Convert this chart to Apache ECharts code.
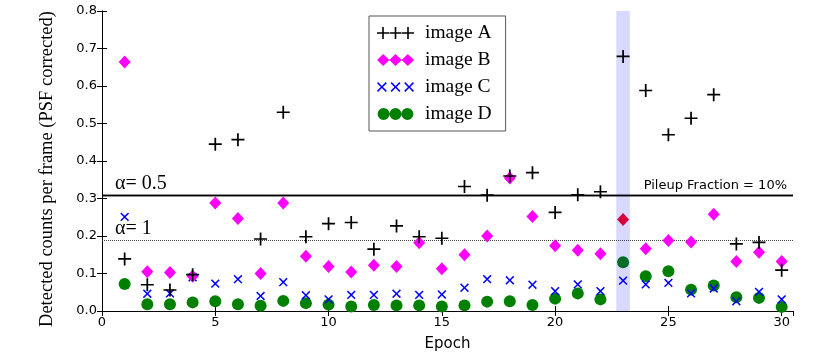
<!DOCTYPE html>
<html>
<head>
<meta charset="utf-8">
<title>Detected counts per frame</title>
<script src="https://cdn.jsdelivr.net/npm/echarts@6/dist/echarts.min.js"></script>
<style>
  html, body { margin: 0; padding: 0; background: #fff; }
  #chart { width: 822px; height: 357px; }
</style>
</head>
<body>
<div id="chart"></div>
<script>
// epochs (x axis)
var epochs = [1, 2, 3, 4, 5, 6, 7, 8, 9, 10, 11, 12, 13, 14, 15,
              16, 17, 18, 19, 20, 21, 22, 23, 24, 25, 26, 27, 28, 29, 30];
// detected counts per frame
var imageA = [0.139, 0.070, 0.056, 0.097, 0.445, 0.457, 0.192, 0.530, 0.198, 0.233,
              0.236, 0.165, 0.227, 0.198, 0.194, 0.332, 0.309, 0.360, 0.369, 0.263,
              0.310, 0.318, 0.679, 0.588, 0.470, 0.514, 0.577, 0.179, 0.183, 0.109];
var imageB = [0.664, 0.105, 0.103, 0.093, 0.288, 0.247, 0.100, 0.288, 0.146, 0.119,
              0.104, 0.122, 0.119, 0.182, 0.113, 0.150, 0.200, 0.355, 0.252, 0.174,
              0.162, 0.153, 0.244, 0.166, 0.188, 0.184, 0.258, 0.132, 0.157, 0.132];
var imageC = [0.251, 0.046, 0.047, 0.090, 0.073, 0.085, 0.040, 0.077, 0.042, 0.031,
              0.043, 0.043, 0.046, 0.043, 0.044, 0.062, 0.085, 0.082, 0.070, 0.053,
              0.071, 0.053, 0.081, 0.071, 0.075, 0.047, 0.060, 0.026, 0.051, 0.031];
var imageD = [0.072, 0.018, 0.018, 0.023, 0.026, 0.018, 0.014, 0.027, 0.021, 0.017,
              0.012, 0.016, 0.015, 0.015, 0.012, 0.015, 0.025, 0.026, 0.016, 0.033,
              0.047, 0.031, 0.130, 0.093, 0.106, 0.057, 0.068, 0.037, 0.035, 0.011];
var seriesNames = ['image A', 'image B', 'image C', 'image D'];
// reference lines and highlighted epoch
var alphaHalf = 0.311;   // alpha = 0.5, pileup fraction 10%
var alphaOne = 0.186;    // alpha = 1
var bandEpoch = [22.7, 23.3];
var xTicks = { min: 0, max: 30.5, step: 5 };
var yTicks = { min: 0, max: 0.8, step: 0.1 };

var sans = 'DejaVu Sans';
var serif = 'Liberation Serif';

var plusPath = 'path://M5.2,0H6.8V5.2H12V6.8H6.8V12H5.2V6.8H0V5.2H5.2Z';

// legend icons with three markers each
function triple(fn) {
  return 'path://' + [6, 18.5, 31].map(fn).join('');
}
var iconPlus = triple(function (c) {
  return 'M' + (c - 0.8) + ',0H' + (c + 0.8) + 'V5.2H' + (c + 6) + 'V6.8H' + (c + 0.8) +
    'V12H' + (c - 0.8) + 'V6.8H' + (c - 6) + 'V5.2H' + (c - 0.8) + 'Z';
});
var iconDiamond = triple(function (c) {
  return 'M' + c + ',0L' + (c + 6.3) + ',6L' + c + ',12L' + (c - 6.3) + ',6Z';
});
var iconCross = triple(function (c) {
  var a = 4.5, d = 1, y = 6;
  var p = [[c - a, y - a + d], [c - a + d, y - a], [c, y - d], [c + a - d, y - a], [c + a, y - a + d],
           [c + d, y], [c + a, y + a - d], [c + a - d, y + a], [c, y + d], [c - a + d, y + a],
           [c - a, y + a - d], [c - d, y]];
  return 'M' + p.map(function (q) { return q[0] + ',' + q[1]; }).join('L') + 'Z';
});
var iconCircle = triple(function (c) {
  return 'M' + (c - 6.3) + ',6A6.3,6.3 0 1,0 ' + (c + 6.3) + ',6A6.3,6.3 0 1,0 ' + (c - 6.3) + ',6Z';
});

function pairs(values, hiColor) {
  return values.map(function (v, i) {
    var item = { value: [epochs[i], v] };
    if (hiColor && epochs[i] === 23) item.itemStyle = { color: hiColor };
    return item;
  });
}

var axisLine = { show: true, lineStyle: { color: '#000', width: 1 } };
var tick = { show: true, inside: true, length: 5, lineStyle: { color: '#000' } };

var myChart = echarts.init(document.getElementById('chart'));
var option = {
  animation: false,
  backgroundColor: '#fff',
  grid: { left: 102, right: 29, top: 11, bottom: 44 },
  legend: {
    data: [
      { name: seriesNames[0], icon: iconPlus },
      { name: seriesNames[1], icon: iconDiamond },
      { name: seriesNames[2], icon: iconCross },
      { name: seriesNames[3], icon: iconCircle }
    ],
    orient: 'vertical',
    left: 369,
    top: 16,
    padding: [7, 14, 7, 8],
    itemGap: 7,
    itemWidth: 37,
    itemHeight: 12,
    borderColor: '#555',
    borderWidth: 1,
    backgroundColor: '#fff',
    selectedMode: false,
    z: 10,
    textStyle: { fontFamily: serif, fontSize: 19.5, color: '#000', lineHeight: 20, padding: [0, 0, 0, 6] }
  },
  xAxis: [{
    type: 'value', min: xTicks.min, max: xTicks.max, interval: xTicks.step,
    position: 'bottom',
    axisLine: axisLine, axisTick: tick, splitLine: { show: false },
    axisLabel: { fontFamily: sans, fontSize: 13, color: '#000', margin: 5, showMaxLabel: false },
    name: 'Epoch', nameLocation: 'middle', nameGap: 26,
    nameTextStyle: { fontFamily: sans, fontSize: 15, color: '#000' }
  }, {
    type: 'value', min: xTicks.min, max: xTicks.max, interval: xTicks.step,
    position: 'top',
    axisLine: axisLine, axisTick: tick, splitLine: { show: false },
    axisLabel: { show: false }
  }],
  yAxis: [{
    type: 'value', min: yTicks.min, max: yTicks.max, interval: yTicks.step,
    position: 'left',
    axisLine: axisLine, axisTick: tick, splitLine: { show: false },
    axisLabel: {
      fontFamily: sans, fontSize: 13, color: '#000', margin: 5,
      formatter: function (v) { return v.toFixed(1); }
    },
    name: 'Detected counts per frame (PSF corrected)', nameLocation: 'middle', nameGap: 45,
    nameTextStyle: { fontFamily: serif, fontSize: 18.5, color: '#000', padding: [0, 16, 0, 0] }
  }, {
    type: 'value', min: yTicks.min, max: yTicks.max, interval: yTicks.step,
    position: 'right',
    axisLine: axisLine, axisTick: tick, splitLine: { show: false },
    axisLabel: { show: false }
  }],
  series: [
    {
      name: 'guides',
      type: 'line',
      data: [],
      z: 1,
      silent: true,
      markArea: {
        silent: true,
        itemStyle: { color: '#d9d9ff' },
        data: [[{ xAxis: bandEpoch[0] }, { xAxis: bandEpoch[1] }]]
      },
      markLine: {
        silent: true,
        symbol: 'none',
        data: [
          {
            yAxis: alphaHalf,
            lineStyle: { color: '#000', width: 1.3, type: 'solid' },
            label: { show: true, position: 'insideStartTop', formatter: 'α= 0.5', distance: [13, 1],
                     fontFamily: serif, fontSize: 20, color: '#000' }
          },
          {
            yAxis: alphaHalf,
            lineStyle: { color: '#000', width: 1.3, type: 'solid' },
            label: { show: true, position: 'insideEndTop', formatter: 'Pileup Fraction = 10%', distance: [6, 3],
                     fontFamily: sans, fontSize: 13, color: '#000' }
          },
          {
            yAxis: alphaOne,
            lineStyle: { color: '#444', width: 1, type: 'dotted' },
            label: { show: true, position: 'insideStartTop', formatter: 'α= 1', distance: [13, 1],
                     fontFamily: serif, fontSize: 20, color: '#000' }
          }
        ]
      }
    },
    {
      name: seriesNames[3], type: 'scatter', z: 3,
      symbol: 'circle', symbolSize: 12,
      itemStyle: { color: '#008000', opacity: 1 },
      data: pairs(imageD, '#006d26')
    },
    {
      name: seriesNames[2], type: 'scatter', z: 4,
      symbol: plusPath, symbolSize: 11, symbolRotate: 45,
      itemStyle: { color: '#0000ff', opacity: 1 },
      data: pairs(imageC)
    },
    {
      name: seriesNames[1], type: 'scatter', z: 5,
      symbol: 'diamond', symbolSize: [12, 13],
      itemStyle: { color: '#ff00ff', opacity: 1 },
      data: pairs(imageB, '#d8003a')
    },
    {
      name: seriesNames[0], type: 'scatter', z: 6,
      symbol: plusPath, symbolSize: 13,
      itemStyle: { color: '#000', opacity: 1 },
      data: pairs(imageA)
    }
  ]
};
option && myChart.setOption(option);
</script>
</body>
</html>
